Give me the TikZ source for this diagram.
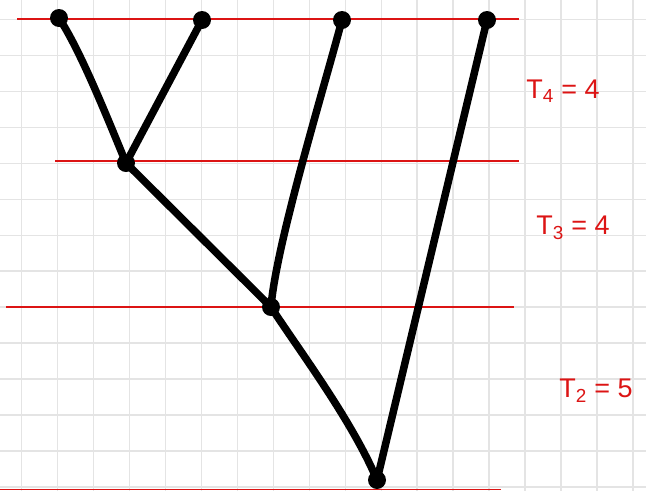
\documentclass[tikz,border=0pt]{standalone}
\usepackage{fontspec}
\setsansfont{Liberation Sans}
\definecolor{gridgray}{RGB}{228,228,228}
\definecolor{penred}{RGB}{220,20,20}
\begin{document}
\begin{tikzpicture}[x=1pt,y=-1pt,
  dot/.style={circle,fill=black,inner sep=0pt,minimum size=18pt},
  edge/.style={line width=7.5pt,line cap=round,line join=round,black},
  level/.style={penred,line width=1.8pt},
  lab/.style={penred,font=\sffamily\fontsize{27}{29}\selectfont,anchor=center}]
\useasboundingbox (0,0) rectangle (646,491);
% grid
\foreach \i in {0,...,17} {\draw[gridgray,line width=1.4pt] ({21.7+35.95*\i},0) -- ({21.7+35.95*\i},491);}
\foreach \j in {0,...,13} {\draw[gridgray,line width=1.4pt] (0,{19.5+35.95*\j}) -- (646,{19.5+35.95*\j});}
% level lines
\draw[level] (17,19) -- (519,19);
\draw[level] (55,161) -- (519,161);
\draw[level] (6,307) -- (514,307);
\draw[level] (0,489.5) -- (501,489.5);
% nodes
\node[dot] (l1) at (59,18) {};
\node[dot] (l2) at (202,20) {};
\node[dot] (l3) at (342,20) {};
\node[dot] (l4) at (487,20) {};
\node[dot] (a) at (126,163) {};
\node[dot] (b) at (271,307) {};
\node[dot] (r) at (377,480) {};
% edges
\draw[edge] (l1.center) .. controls (80,50) and (105,112) .. (a.center);
\draw[edge] (l2.center) -- (a.center);
\draw[edge] (a.center) -- (b.center);
\draw[edge] (l3.center) .. controls (322,95) and (276,245) .. (b.center);
\draw[edge] (b.center) .. controls (296,346) and (352,420) .. (r.center);
\draw[edge] (l4.center) -- (r.center);
% labels
\node[lab] (t4) at (563,91) {T\textsubscript{4} = 4};
\node[lab] (t3) at (573,228) {T\textsubscript{3} = 4};
\node[lab] (t2) at (596,391) {T\textsubscript{2} = 5};
\end{tikzpicture}
\end{document}
